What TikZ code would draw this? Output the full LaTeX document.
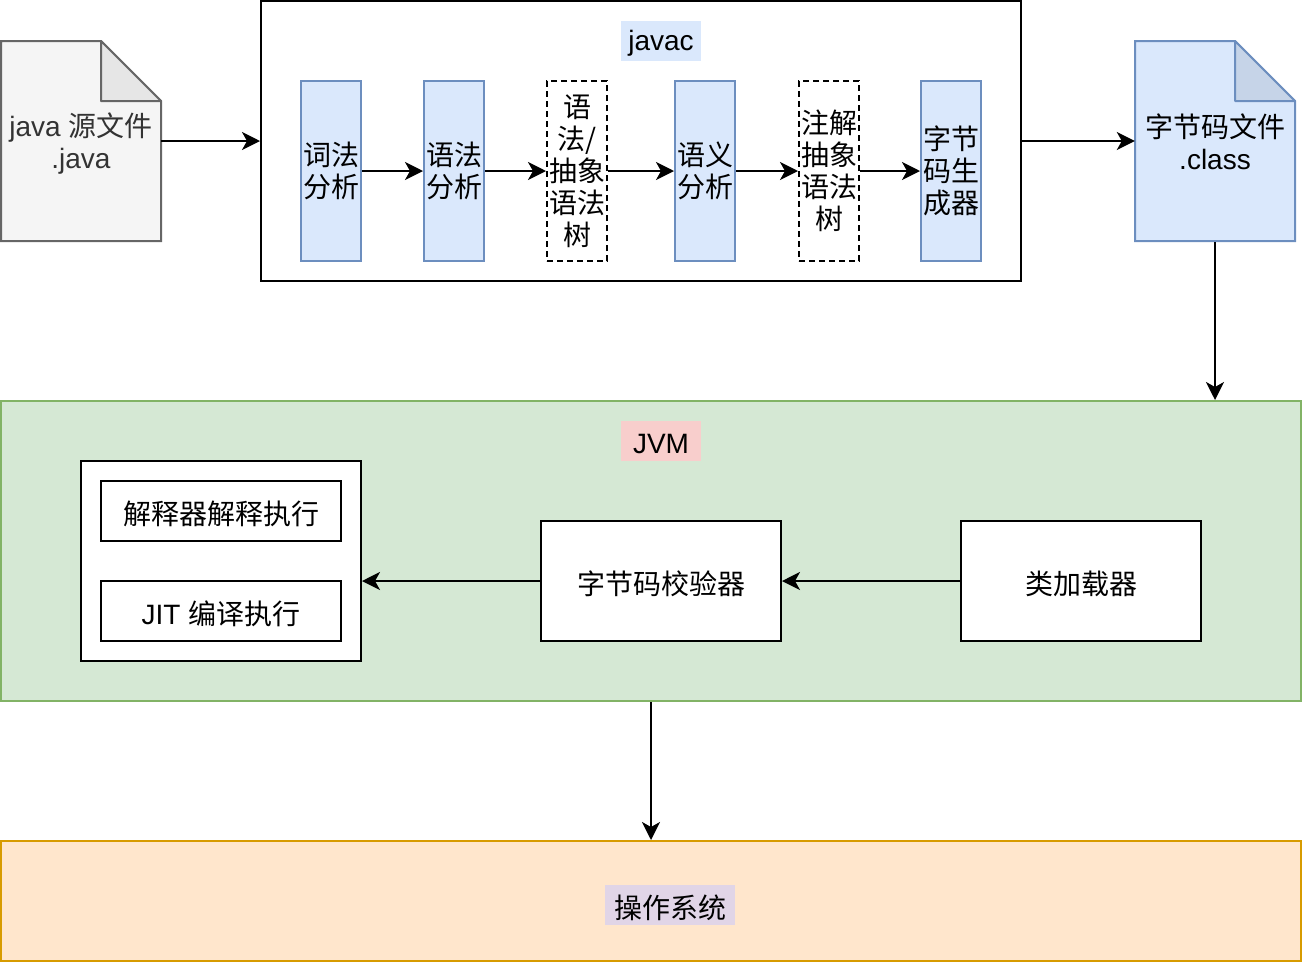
\documentclass[tikz,border=0pt]{standalone}
\usepackage{fontspec}
\setmainfont{Liberation Sans}
\newfontfamily\cjk{Noto Sans CJK SC}
\usetikzlibrary{arrows.meta}
\newcommand{\dnx}[1]{\raisebox{-2.5pt}[\height][\depth]{#1}}
\definecolor{blueF}{HTML}{DAE8FC}
\definecolor{blueS}{HTML}{6C8EBF}
\definecolor{blueFold}{HTML}{C6D4E8}
\definecolor{grayF}{HTML}{F5F5F5}
\definecolor{grayS}{HTML}{666666}
\definecolor{grayFold}{HTML}{E6E6E6}
\definecolor{grayT}{HTML}{333333}
\definecolor{greenF}{HTML}{D5E8D4}
\definecolor{greenS}{HTML}{82B366}
\definecolor{redF}{HTML}{F8CECC}
\definecolor{orangeF}{HTML}{FFE6CC}
\definecolor{orangeS}{HTML}{D79B00}
\definecolor{purpleF}{HTML}{E1D5E7}
\tikzset{
  every node/.style={font=\fontsize{28}{32}\selectfont, inner sep=0pt, align=center},
  zh/.style={font=\cjk\fontsize{28}{32}\selectfont},
  blk/.style={draw=black, line width=2pt, fill=white},
  bluebox/.style={draw=blueS, fill=blueF, line width=2pt, minimum width=60pt, minimum height=180pt, zh},
  dashbox/.style={draw=black, dash pattern=on 6pt off 4pt, fill=white, line width=2pt, minimum width=60pt, minimum height=180pt, zh},
  arr/.style={line width=2pt, -{Stealth[length=18pt,width=18pt,inset=5pt]}},
  lbl/.style={minimum width=80pt, minimum height=40pt},
}
\begin{document}
\begin{tikzpicture}[x=1pt,y=-1pt]
\useasboundingbox (0,0) rectangle (1302,962);
% java source doc
\draw[line width=2pt, draw=grayS, fill=grayF] (1,41) -- (101,41) -- (161,101) -- (161,241) -- (1,241) -- cycle;
\draw[line width=2pt, draw=grayS, fill=grayFold, line join=round] (101,41) -- (101,101) -- (161,101) -- cycle;
\node[minimum width=160pt, minimum height=200pt, text=grayT] (javadoc) at (81,144) {java {\cjk 源文件}\\.java};
% javac container
\node[blk, minimum width=760pt, minimum height=280pt] (javac) at (641,141) {};
\node[lbl, fill=blueF] (javaclbl) at (661,41) {\dnx{javac}};
\node[bluebox] (s1) at (331,171) {词法\\分析};
\node[bluebox] (s2) at (454,171) {语法\\分析};
\node[dashbox] (s3) at (577,171) {语\\法/\\抽象\\语法\\树};
\node[bluebox] (s4) at (705,171) {语义\\分析};
\node[dashbox] (s5) at (829,171) {注解\\抽象\\语法\\树};
\node[bluebox] (s6) at (951,171) {字节\\码生\\成器};
\draw[arr] (s1.east) -- (s2.west);
\draw[arr] (s2.east) -- (s3.west);
\draw[arr] (s3.east) -- (s4.west);
\draw[arr] (s4.east) -- (s5.west);
\draw[arr] (s5.east) -- (s6.west);
% class doc
\draw[line width=2pt, draw=blueS, fill=blueF] (1135,41) -- (1235,41) -- (1295,101) -- (1295,241) -- (1135,241) -- cycle;
\draw[line width=2pt, draw=blueS, fill=blueFold, line join=round] (1235,41) -- (1235,101) -- (1295,101) -- cycle;
\node[minimum width=160pt, minimum height=200pt] (classdoc) at (1215,142) {{\cjk 字节码文件}\\.class};
\draw[arr] (javadoc.east |- javac.west) -- (javac.west);
\draw[arr] (javac.east) -- (classdoc.west |- javac.east);
% JVM
\node[draw=greenS, fill=greenF, line width=2pt, minimum width=1300pt, minimum height=300pt] (jvm) at (651,551) {};
\node[lbl, fill=redF] (jvmlbl) at (661,441) {\dnx{JVM}};
\draw[arr] (classdoc.south) -- (classdoc.south |- jvm.north);
\node[blk, minimum width=280pt, minimum height=200pt] (exec) at (221,561) {};
\node[blk, minimum width=240pt, minimum height=60pt, zh] (interp) at (221,511) {\dnx{解释器解释执行}};
\node[blk, minimum width=240pt, minimum height=60pt] (jit) at (221,611) {\dnx{JIT {\cjk 编译执行}}};
\node[blk, minimum width=240pt, minimum height=120pt, zh] (verifier) at (661,581) {\dnx{字节码校验器}};
\node[blk, minimum width=240pt, minimum height=120pt, zh] (loader) at (1081,581) {\dnx{类加载器}};
\draw[arr] (loader.west) -- (verifier.east);
\draw[arr] (verifier.west) -- (verifier.west -| exec.east);
% OS
\node[draw=orangeS, fill=orangeF, line width=2pt, minimum width=1300pt, minimum height=120pt] (os) at (651,901) {};
\node[minimum width=130pt, minimum height=40pt, fill=purpleF, zh] (oslbl) at (670,905) {\dnx{操作系统}};
\draw[arr] (jvm.south) -- (os.north);
\end{tikzpicture}
\end{document}
